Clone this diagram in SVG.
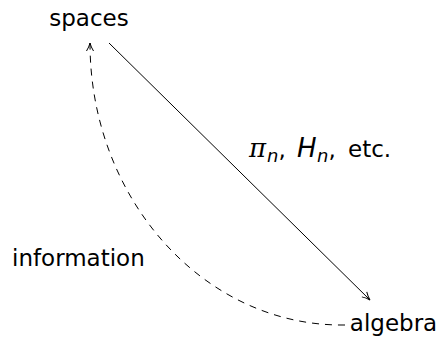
<svg xmlns="http://www.w3.org/2000/svg" width="438" height="337" viewBox="0 0 438 337">
<defs>
<style>
.lbl{font-family:"DejaVu Sans",sans-serif;font-size:23px;fill:#000}
.m{font-style:italic;font-size:26px}
.sub{font-style:italic;font-size:18px}
.edge{fill:none;stroke:#000;stroke-width:1}
</style>
<marker id="arr" viewBox="0 0 10 10" refX="9" refY="5" markerWidth="10" markerHeight="10" markerUnits="userSpaceOnUse" orient="auto">
<path d="M1,1.5 Q5,4 9,5 Q5,6 1,8.5" fill="none" stroke="#000" stroke-width="1"/>
</marker>
</defs>
<rect width="438" height="337" fill="#fff"/>
<g id="spaces"><text class="lbl" x="89" y="26" text-anchor="middle">spaces</text></g>
<g id="algebra"><text class="lbl" x="393.5" y="331" text-anchor="middle">algebra</text></g>
<g id="connectors">
<path class="edge" d="M109,43 L370,300" marker-end="url(#arr)"/>
<path class="edge" d="M345,325 C205,327 90,200 90,43" stroke-dasharray="7,6" marker-end="url(#arr)"/>
<text class="lbl" y="157"><tspan x="249" class="m" font-family="DejaVu Serif">π</tspan><tspan x="267" class="sub" dy="5">n</tspan><tspan dy="-5">, </tspan><tspan x="297" class="m">H</tspan><tspan x="317" class="sub" dy="5">n</tspan><tspan dy="-5">, </tspan><tspan x="348">etc.</tspan></text>
<text class="lbl" x="12" y="266">information</text>
</g>
</svg>
